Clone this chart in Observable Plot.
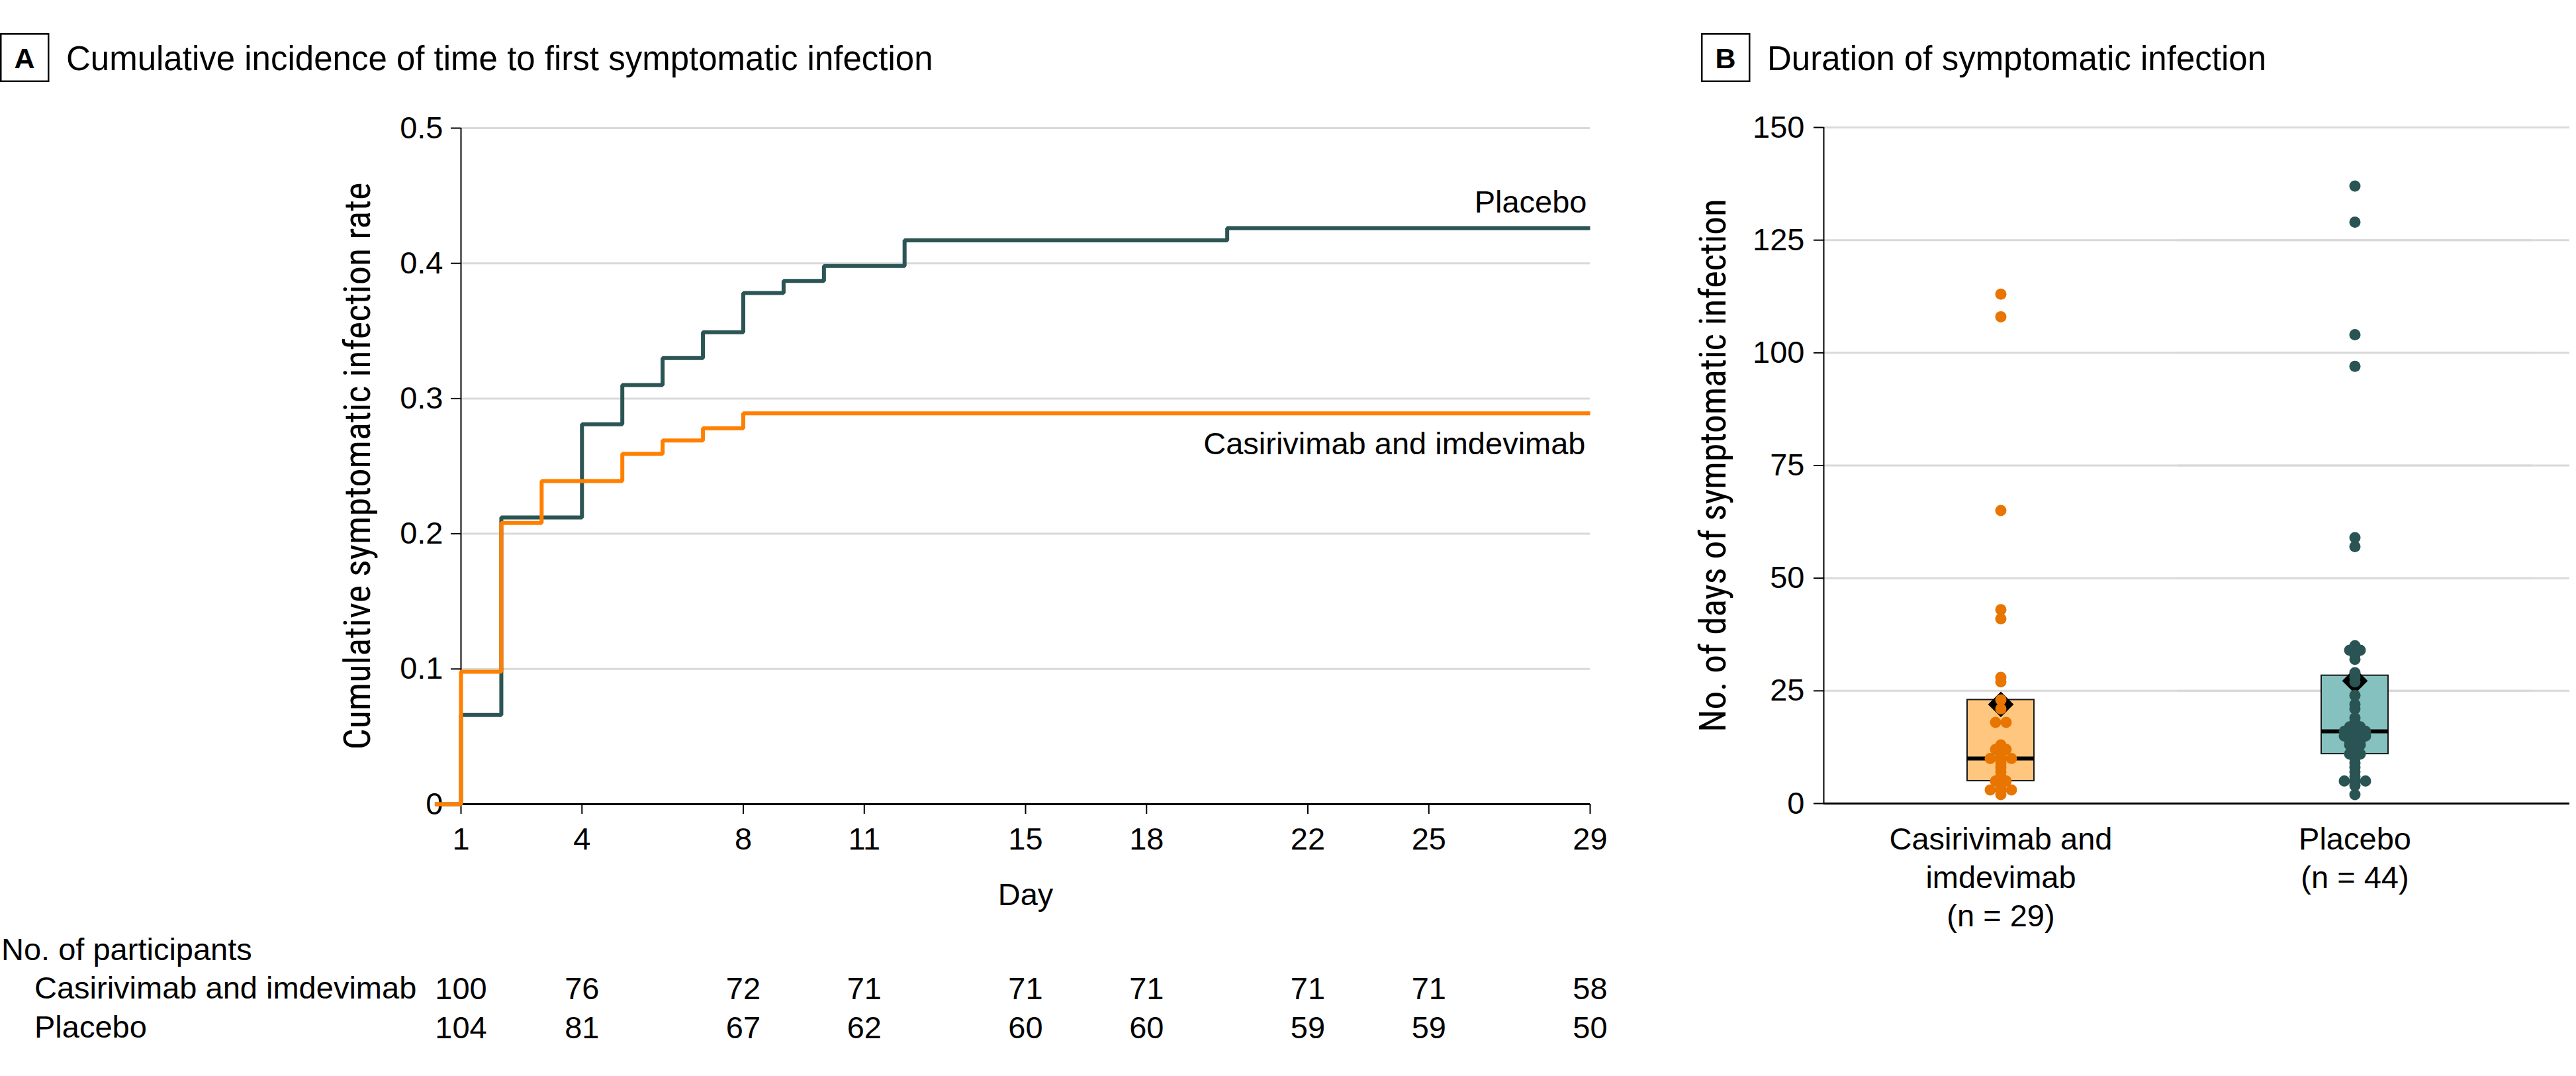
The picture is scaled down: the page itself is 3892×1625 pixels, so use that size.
<!DOCTYPE html>
<html>
<head>
<meta charset="utf-8">
<script src="https://cdn.jsdelivr.net/npm/d3@7"></script>
<script src="https://cdn.jsdelivr.net/npm/@observablehq/plot@0.6"></script>
<style>
  html, body { margin: 0; padding: 0; background: #fff; }
  #root { position: relative; width: 3892px; height: 1625px; overflow: hidden; background: #fff; }
  #overlay { position: absolute; left: 0; top: 0; }
  #panelA { position: absolute; left: 0; top: 0; width: 2450px; height: 1625px; }
  #panelB { position: absolute; left: 2450px; top: 0; width: 1442px; height: 1625px; }
</style>
</head>
<body>
<div id="root">
  <div id="panelA"></div>
  <div id="panelB"></div>
  <svg id="overlay" width="3892" height="1625"></svg>
</div>
<script>
// ---------------- DATA ----------------
// Panel A: cumulative incidence step functions
const kmPlaceboDay  = [0.35, 1, 2, 4, 5, 6, 7, 8, 9, 10, 12, 20, 29];
const kmPlaceboRate = [0, 0.066, 0.212, 0.281, 0.310, 0.330, 0.349, 0.378, 0.387, 0.398, 0.417, 0.426, 0.426];
const kmCasDay  = [0.35, 1, 2, 3, 5, 6, 7, 8, 29];
const kmCasRate = [0, 0.098, 0.208, 0.239, 0.259, 0.269, 0.278, 0.289, 0.289];
const dayTicks = [1, 4, 8, 11, 15, 18, 22, 25, 29];
const rateTicks = [0, 0.1, 0.2, 0.3, 0.4, 0.5];
const riskCas = [100, 76, 72, 71, 71, 71, 71, 71, 58];
const riskPlacebo = [104, 81, 67, 62, 60, 60, 59, 59, 50];
const seriesNames = ["Casirivimab and imdevimab", "Placebo"];

// Panel B: duration of symptomatic infection (days)
const groups = ["Casirivimab and imdevimab", "Placebo"];
const groupTickLabels = ["Casirivimab and\nimdevimab\n(n = 29)", "Placebo\n(n = 44)"];
const durCas = [113, 108, 65, 43, 41, 28, 27, 23, 21, 18, 18, 13, 12, 12, 11, 10, 10, 10, 9, 8, 7, 6, 5, 5, 4, 3, 3, 3, 2];
const durPlacebo = [137, 129, 104, 97, 59, 57, 35, 34, 34, 33, 32, 29, 28, 27, 24, 22, 21,
  19, 18, 17, 17, 16, 16, 16, 15, 15, 15, 14, 14, 13, 13, 12, 11, 11, 10, 9, 8, 7, 6, 5, 5, 5, 4, 2];
const boxQ1 = [5, 11];
const boxMedian = [10, 16];
const boxQ3 = [23, 28.4];
const boxMean = [22, 27.2];
const daysTicks = [0, 25, 50, 75, 100, 125, 150];

// ---------------- STYLE ----------------
const TEAL = "#2b5554", ORANGE = "#ff8000";
const DOT_ORANGE = "#e87500", DOT_TEAL = "#2a5453";
const BOX_FILL = ["#ffc680", "#85c2bf"];
const GRID = "#d9d9d9";
const SANS = '"Liberation Sans", Arial, sans-serif';
const LABEL_FONT = '"Roboto Condensed", "DejaVu Sans Condensed", "Liberation Sans", sans-serif';
const FS = 47;

// font size that makes a text span a given length (axis titles)
function fitSize(text, family, length) {
  const c = document.createElement("canvas").getContext("2d");
  c.font = `100px ${family}`;
  return Math.round(100 * length / c.measureText(text).width * 10) / 10;
}
const yLabelA = "Cumulative symptomatic infection rate";
const yLabelB = "No. of days of symptomatic infection";
const yLabelSizeA = fitSize(yLabelA, LABEL_FONT, 856);
const yLabelSizeB = fitSize(yLabelB, LABEL_FONT, 806);

// ---------------- PANEL A ----------------
const placebo = kmPlaceboDay.map((d, i) => ({day: d, rate: kmPlaceboRate[i]}));
const cas = kmCasDay.map((d, i) => ({day: d, rate: kmCasRate[i]}));
const lastLabel = (name, days, rates) => ({name, day: days[days.length - 1], rate: rates[rates.length - 1]});
const riskRowsCas = dayTicks.map((d, i) => ({day: d, n: riskCas[i]}));
const riskRowsPlacebo = dayTicks.map((d, i) => ({day: d, n: riskPlacebo[i]}));

const plotA = Plot.plot({
  width: 2450, height: 1625,
  marginLeft: 696, marginRight: 48, marginTop: 193, marginBottom: 1625 - 1214,
  x: {domain: [1, 29]},
  y: {domain: [0, 0.5]},
  style: {fontFamily: SANS, fontSize: FS + "px", color: "#000", background: "transparent", overflow: "visible", maxWidth: "none"},
  marks: [
    Plot.gridY({ticks: rateTicks.filter(d => d > 0), stroke: GRID, strokeOpacity: 1, strokeWidth: 3}),
    Plot.axisY({ticks: rateTicks, tickSize: 15, tickPadding: 12, strokeWidth: 2, fontSize: FS,
      tickFormat: d => d === 0 ? "0" : d3.format(".1f")(d), label: null}),
    Plot.axisX({ticks: dayTicks, tickSize: 15, tickPadding: 20, strokeWidth: 2, fontSize: FS,
      tickFormat: d => String(d), label: null}),
    Plot.ruleX([1], {strokeWidth: 2, stroke: "#000"}),
    Plot.ruleY([0], {strokeWidth: 3, stroke: "#000"}),
    Plot.line(placebo, {x: "day", y: "rate", curve: "step-after", stroke: TEAL, strokeWidth: 6, strokeLinejoin: "miter", strokeLinecap: "butt"}),
    Plot.line(cas, {x: "day", y: "rate", curve: "step-after", stroke: ORANGE, strokeWidth: 6, strokeLinejoin: "miter", strokeLinecap: "butt"}),
    Plot.text([lastLabel(seriesNames[1], kmPlaceboDay, kmPlaceboRate)], {x: "day", y: "rate", text: "name", textAnchor: "end", lineAnchor: "bottom", dx: -5, dy: -24, fontSize: FS}),
    Plot.text([lastLabel(seriesNames[0], kmCasDay, kmCasRate)], {x: "day", y: "rate", text: "name", textAnchor: "end", lineAnchor: "bottom", dx: -7, dy: 62, fontSize: FS}),
    Plot.text(["Day"], {frameAnchor: "bottom", lineAnchor: "bottom", dy: 152, fontSize: FS}),
    Plot.text([yLabelA], {frameAnchor: "left", textAnchor: "middle", lineAnchor: "middle", rotate: -90, dx: -156, fontSize: yLabelSizeA, fontFamily: LABEL_FONT}),
    Plot.text(riskRowsCas, {x: "day", text: d => String(d.n), frameAnchor: "bottom", lineAnchor: "bottom", dy: 294, fontSize: FS}),
    Plot.text(riskRowsPlacebo, {x: "day", text: d => String(d.n), frameAnchor: "bottom", lineAnchor: "bottom", dy: 353, fontSize: FS})
  ]
});
document.getElementById("panelA").append(plotA);

// ---------------- PANEL B ----------------
// centred side-by-side placement of equal values (binned beeswarm), in pixel units of the x scale
const DOT_SPACING = 16;
function swarmOffsets(values) {
  const counts = d3.rollup(values, v => v.length, d => d);
  const seen = new Map();
  return values.map(v => {
    const k = seen.get(v) || 0;
    seen.set(v, k + 1);
    return (k - (counts.get(v) - 1) / 2) * DOT_SPACING;
  });
}
const offCas = swarmOffsets(durCas), offPlacebo = swarmOffsets(durPlacebo);
const durations = [
  ...durCas.map((v, i) => ({group: groups[0], days: v, offset: offCas[i]})),
  ...durPlacebo.map((v, i) => ({group: groups[1], days: v, offset: offPlacebo[i]}))
];
const summary = groups.map((g, i) => ({group: g, q1: boxQ1[i], median: boxMedian[i], q3: boxQ3[i], mean: boxMean[i], fill: BOX_FILL[i]}));
const BAND = 535, BOXW = 101, INSET = (BAND - BOXW) / 2, EXT = 57;
const xDomB = [-BAND / 2, BAND / 2];
const gridB = daysTicks.filter(d => d > 0);

const plotB = Plot.plot({
  width: 1442, height: 1625,
  marginLeft: 305, marginRight: 1442 - 305 - 2 * BAND, marginTop: 192, marginBottom: 1625 - 1213,
  fx: {domain: groups, padding: 0, label: null},
  x: {domain: xDomB, axis: null},
  y: {domain: [0, 150]},
  color: {domain: groups, range: [DOT_ORANGE, DOT_TEAL]},
  style: {fontFamily: SANS, fontSize: FS + "px", color: "#000", background: "transparent", overflow: "visible", maxWidth: "none"},
  marks: [
    Plot.ruleY(gridB, {stroke: GRID, strokeWidth: 3}),
    Plot.ruleY(gridB, {fx: () => groups[1], stroke: GRID, strokeWidth: 3, insetRight: -EXT}),
    Plot.axisY({ticks: daysTicks, tickSize: 15, tickPadding: 14, strokeWidth: 2, fontSize: FS, label: null}),
    Plot.ruleX([xDomB[0]], {fx: () => groups[0], stroke: "#000", strokeWidth: 2}),
    Plot.ruleY([0], {stroke: "#000", strokeWidth: 3}),
    Plot.ruleY([0], {fx: () => groups[1], stroke: "#000", strokeWidth: 3, insetRight: -EXT}),
    Plot.rect(summary, {fx: "group", y1: "q1", y2: "q3", fill: d => d.fill, stroke: "#1a1a1a", strokeWidth: 2, insetLeft: INSET, insetRight: INSET}),
    Plot.ruleY(summary, {fx: "group", y: "median", stroke: "#000", strokeWidth: 6, insetLeft: INSET, insetRight: INSET}),
    Plot.dot(summary, {fx: "group", y: "mean", symbol: "diamond2", r: 17, fill: "#000", stroke: "#000", strokeWidth: 1}),
    Plot.dot(durations, {fx: "group", x: "offset", y: "days", r: 8.5, fill: "group"}),
    Plot.axisFx({anchor: "bottom", tickSize: 0, tickPadding: 28, fontSize: FS, lineHeight: 1.24, label: null,
      tickFormat: d => groupTickLabels[groups.indexOf(d)]}),
    Plot.text([yLabelB], {fx: () => groups[0], frameAnchor: "left", textAnchor: "middle", lineAnchor: "middle", rotate: -90, dx: -166, fontSize: yLabelSizeB, fontFamily: LABEL_FONT})
  ]
});
document.getElementById("panelB").append(plotB);

// ---------------- OVERLAY: panel headers & table labels ----------------
const ov = d3.select("#overlay").style("font-family", SANS);
function header(x, letter, title) {
  ov.append("rect").attr("x", x + 1.25).attr("y", 51.25).attr("width", 72).attr("height", 71.5)
    .attr("fill", "none").attr("stroke", "#000").attr("stroke-width", 2.5);
  ov.append("text").attr("x", x + 37).attr("y", 103).attr("text-anchor", "middle")
    .attr("font-size", 43).attr("font-weight", "bold").text(letter);
  ov.append("text").attr("x", x + 100).attr("y", 106).attr("font-size", 51).text(title);
}
header(0, "A", "Cumulative incidence of time to first symptomatic infection");
header(2570, "B", "Duration of symptomatic infection");
ov.append("text").attr("x", 2).attr("y", 1450).attr("font-size", FS).text("No. of participants");
ov.append("text").attr("x", 52).attr("y", 1508).attr("font-size", FS).text(seriesNames[0]);
ov.append("text").attr("x", 52).attr("y", 1567).attr("font-size", FS).text(seriesNames[1]);
</script>
</body>
</html>
